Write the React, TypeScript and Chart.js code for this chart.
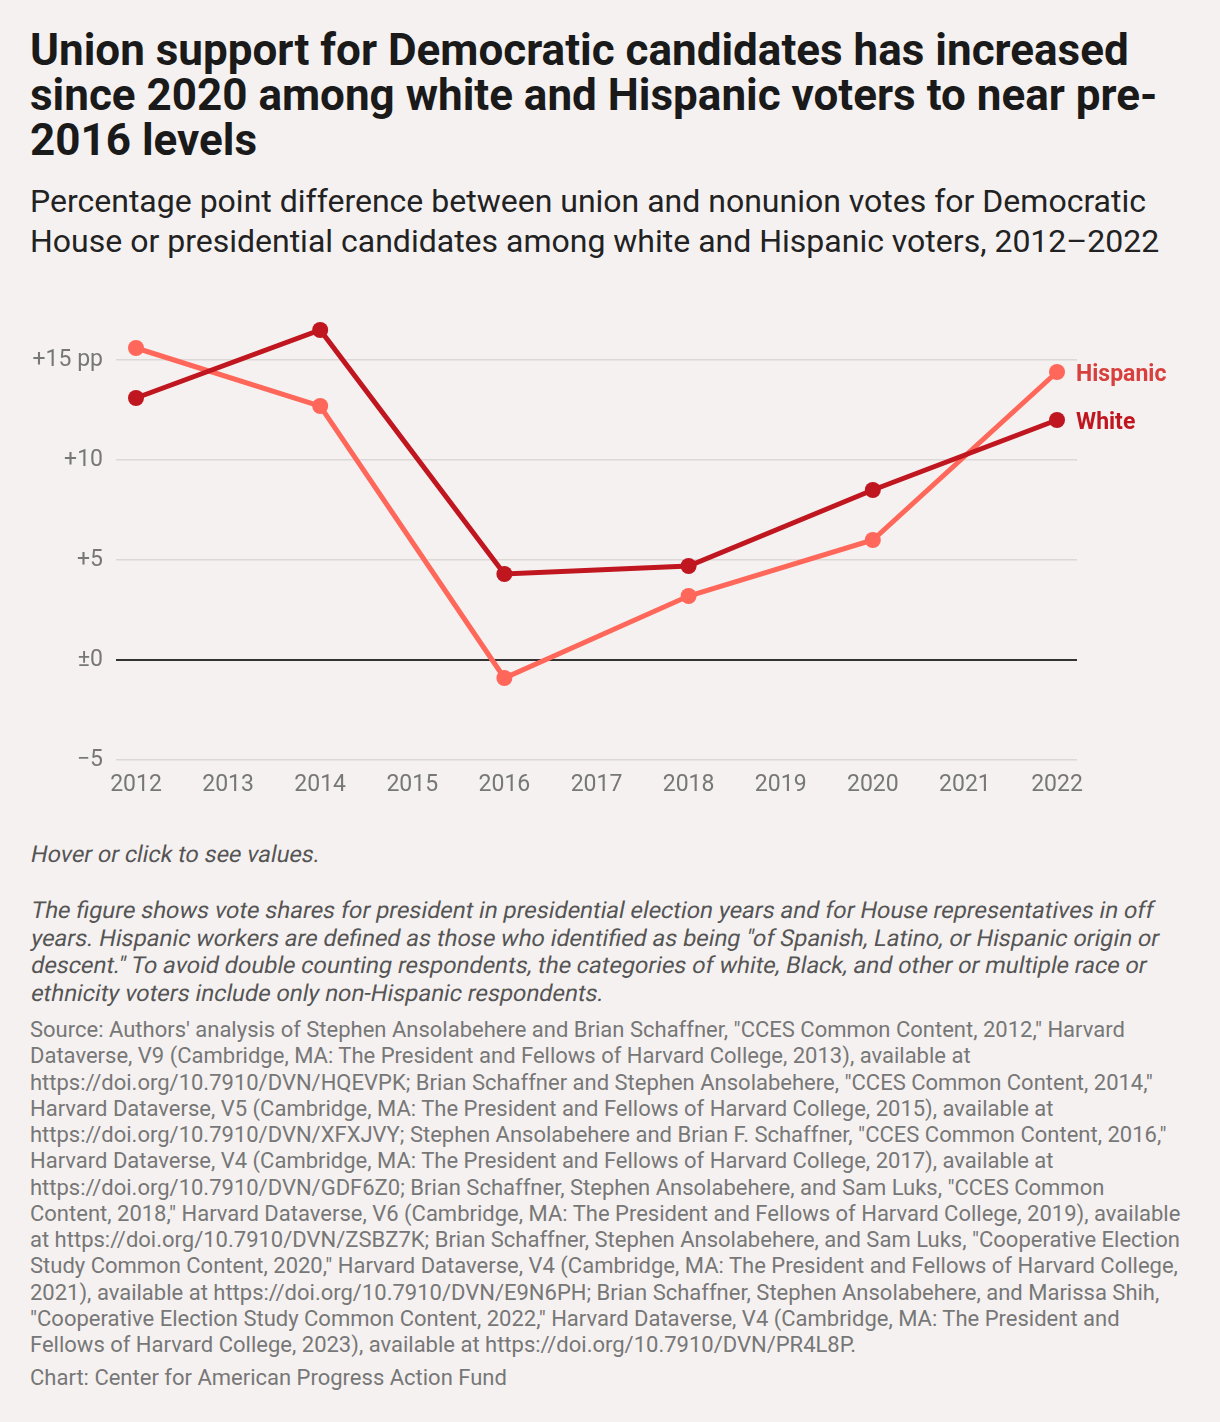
import React, { useEffect, useRef } from "react";
import { Chart, registerables } from "chart.js";

Chart.register(...registerables);

const years = [2012, 2014, 2016, 2018, 2020, 2022];
const hispanicValues = [15.6, 12.7, -0.9, 3.2, 6.0, 14.4];
const whiteValues = [13.1, 16.5, 4.3, 4.7, 8.5, 12.0];
const xTickYears = [2012, 2013, 2014, 2015, 2016, 2017, 2018, 2019, 2020, 2021, 2022];
const yTickValues = [-5, 0, 5, 10, 15];
const yTickLabels = ["\u22125", "\u00b10", "+5", "+10", "+15 pp"];
const seriesNames = ["Hispanic", "White"];

const HISPANIC_LINE = "#fe675a";
const HISPANIC_LABEL = "#d8403d";
const WHITE_LINE = "#c0161f";
const BG = "#f5f1f0";

const titleLines = [
  "Union support for Democratic candidates has increased",
  "since 2020 among white and Hispanic voters to near pre-",
  "2016 levels",
];
const subtitleLines = [
  "Percentage point difference between union and nonunion votes for Democratic",
  "House or presidential candidates among white and Hispanic voters, 2012\u20132022",
];
const noteLines = [
  "The figure shows vote shares for president in presidential election years and for House representatives in off",
  "years. Hispanic workers are defined as those who identified as being \"of Spanish, Latino, or Hispanic origin or",
  "descent.\" To avoid double counting respondents, the categories of white, Black, and other or multiple race or",
  "ethnicity voters include only non-Hispanic respondents.",
];
const sourceLines = [
  "Source: Authors' analysis of Stephen Ansolabehere and Brian Schaffner, \"CCES Common Content, 2012,\" Harvard",
  "Dataverse, V9 (Cambridge, MA: The President and Fellows of Harvard College, 2013), available at",
  "https://doi.org/10.7910/DVN/HQEVPK; Brian Schaffner and Stephen Ansolabehere, \"CCES Common Content, 2014,\"",
  "Harvard Dataverse, V5 (Cambridge, MA: The President and Fellows of Harvard College, 2015), available at",
  "https://doi.org/10.7910/DVN/XFXJVY; Stephen Ansolabehere and Brian F. Schaffner, \"CCES Common Content, 2016,\"",
  "Harvard Dataverse, V4 (Cambridge, MA: The President and Fellows of Harvard College, 2017), available at",
  "https://doi.org/10.7910/DVN/GDF6Z0; Brian Schaffner, Stephen Ansolabehere, and Sam Luks, \"CCES Common",
  "Content, 2018,\" Harvard Dataverse, V6 (Cambridge, MA: The President and Fellows of Harvard College, 2019), available",
  "at https://doi.org/10.7910/DVN/ZSBZ7K; Brian Schaffner, Stephen Ansolabehere, and Sam Luks, \"Cooperative Election",
  "Study Common Content, 2020,\" Harvard Dataverse, V4 (Cambridge, MA: The President and Fellows of Harvard College,",
  "2021), available at https://doi.org/10.7910/DVN/E9N6PH; Brian Schaffner, Stephen Ansolabehere, and Marissa Shih,",
  "\"Cooperative Election Study Common Content, 2022,\" Harvard Dataverse, V4 (Cambridge, MA: The President and",
  "Fellows of Harvard College, 2023), available at https://doi.org/10.7910/DVN/PR4L8P.",
];

const endLabels = {
  id: "endLabels",
  afterDatasetsDraw(chart: any) {
    const ctx = chart.ctx;
    const colors = [HISPANIC_LABEL, WHITE_LINE];
    chart.data.datasets.forEach((ds: any, i: number) => {
      const meta = chart.getDatasetMeta(i);
      const pt = meta.data[meta.data.length - 1];
      if (!pt) return;
      ctx.save();
      ctx.font = "bold 23px Roboto";
      ctx.fillStyle = colors[i];
      ctx.textBaseline = "middle";
      ctx.textAlign = "left";
      ctx.fillText(ds.label, pt.x + 19, pt.y + 3);
      ctx.restore();
    });
  },
};

function LineChart() {
  const ref = useRef<HTMLCanvasElement | null>(null);
  useEffect(() => {
    if (!ref.current) return;
    const chart = new Chart(ref.current, {
      type: "line",
      data: {
        datasets: [
          {
            label: seriesNames[0],
            data: years.map((y, i) => ({ x: y, y: hispanicValues[i] })),
            borderColor: HISPANIC_LINE,
            backgroundColor: HISPANIC_LINE,
            pointBackgroundColor: HISPANIC_LINE,
            pointBorderColor: HISPANIC_LINE,
            borderWidth: 5,
            pointRadius: 8,
            pointBorderWidth: 0,
            tension: 0,
            order: 2,
          },
          {
            label: seriesNames[1],
            data: years.map((y, i) => ({ x: y, y: whiteValues[i] })),
            borderColor: WHITE_LINE,
            backgroundColor: WHITE_LINE,
            pointBackgroundColor: WHITE_LINE,
            pointBorderColor: WHITE_LINE,
            borderWidth: 5,
            pointRadius: 8,
            pointBorderWidth: 0,
            tension: 0,
            order: 1,
          },
        ],
      },
      options: {
        animation: false,
        responsive: false,
        maintainAspectRatio: false,
        layout: { padding: { top: 10, right: 143, left: 0, bottom: 0 } },
        plugins: {
          legend: { display: false },
          tooltip: { enabled: false },
        },
        scales: {
          x: {
            type: "linear",
            min: 2011.783,
            max: 2022.217,
            afterBuildTicks: (axis: any) => {
              axis.ticks = xTickYears.map((v) => ({ value: v }));
            },
            afterFit: (axis: any) => {
              axis.height = 40;
              axis.paddingLeft = 0;
              axis.paddingRight = 0;
            },
            ticks: {
              autoSkip: false,
              maxRotation: 0,
              padding: 11,
              color: "#777",
              font: { family: "Roboto", size: 23 },
              callback: (v: any) => String(v),
            },
            grid: { display: false, drawTicks: false },
            border: { display: false },
          },
          y: {
            min: -5,
            max: 17.5,
            afterBuildTicks: (axis: any) => {
              axis.ticks = yTickValues.map((v) => ({ value: v }));
            },
            afterFit: (axis: any) => {
              axis.width = 116;
              axis.paddingTop = 0;
              axis.paddingBottom = 0;
            },
            ticks: {
              padding: 13,
              color: "#777",
              font: { family: "Roboto", size: 23 },
              callback: (v: any) => {
                const idx = yTickValues.indexOf(Number(v));
                return idx >= 0 ? yTickLabels[idx] : "";
              },
            },
            grid: {
              drawTicks: false,
              color: (c: any) => (c.tick && c.tick.value === 0 ? "#333" : "#dcd8d6"),
              lineWidth: (c: any) => (c.tick && c.tick.value === 0 ? 2 : 1.5),
            },
            border: { display: false },
          },
        },
      },
      plugins: [endLabels],
    });
    return () => chart.destroy();
  }, []);
  return <canvas ref={ref} width={1220} height={500} style={{ display: "block", width: 1220, height: 500 }} />;
}

export default function App() {
  useEffect(() => {
    document.body.style.margin = "0";
    document.body.style.background = BG;
  }, []);
  const abs = (top: number): React.CSSProperties => ({
    position: "absolute",
    top,
    left: 30,
    whiteSpace: "nowrap",
  });
  const skew: React.CSSProperties = { transform: "skewX(-11deg)", transformOrigin: "0 75%" };
  return (
    <div style={{ position: "relative", width: 1220, height: 1422, background: BG, fontFamily: "Roboto, sans-serif", overflow: "hidden" }}>
      <div style={{ ...abs(28), fontSize: 44, fontWeight: 700, lineHeight: "45px", color: "#1a1a1a" }}>
        {titleLines.map((l, i) => (
          <div key={i}>{l}</div>
        ))}
      </div>
      <div style={{ ...abs(181), fontSize: 32, fontWeight: 400, lineHeight: "40px", color: "#222" }}>
        {subtitleLines.map((l, i) => (
          <div key={i}>{l}</div>
        ))}
      </div>
      <div style={{ position: "absolute", top: 300, left: 0 }}>
        <LineChart />
      </div>
      <div style={{ ...abs(840), fontSize: 23.3, lineHeight: "28px", color: "#555" }}>
        <div style={skew}>Hover or click to see values.</div>
      </div>
      <div style={{ ...abs(897), fontSize: 23.4, lineHeight: "27.7px", color: "#555" }}>
        {noteLines.map((l, i) => (
          <div key={i} style={skew}>{l}</div>
        ))}
      </div>
      <div style={{ ...abs(1017), fontSize: 22, lineHeight: "26.25px", color: "#777" }}>
        {sourceLines.map((l, i) => (
          <div key={i}>{l}</div>
        ))}
      </div>
      <div style={{ ...abs(1365), fontSize: 22, lineHeight: "26px", color: "#777" }}>
        Chart: Center for American Progress Action Fund
      </div>
    </div>
  );
}
